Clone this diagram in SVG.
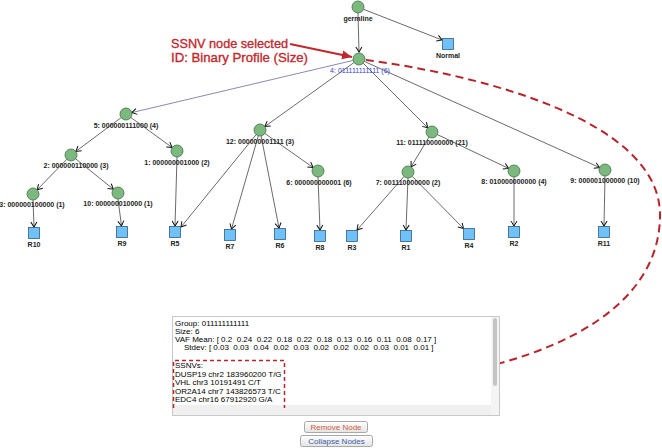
<svg xmlns="http://www.w3.org/2000/svg" width="662" height="448" viewBox="0 0 662 448">
<defs>
<style>
.c{fill:#7bb97f;stroke:#3f6f45;stroke-width:0.8}
.s{fill:#6fc1f8;stroke:#2d5f84;stroke-width:0.8}
.l{font-family:"Liberation Sans",Arial,sans-serif;font-size:7px;font-weight:bold;fill:#222;text-anchor:middle}
.e line{stroke:#444;stroke-width:0.8;marker-end:url(#ah)}
.p{font-family:"Liberation Sans",Arial,sans-serif;font-size:8px;fill:#000;white-space:pre}
.a{font-family:"Liberation Sans",Arial,sans-serif;font-size:13.5px;fill:#c1272d;stroke:#c1272d;stroke-width:0.35}
.b{font-family:"Liberation Sans",Arial,sans-serif;font-size:8px;text-anchor:middle}
</style>
<marker id="ah" viewBox="-6 -4 7 8" refX="0" refY="0" markerWidth="7" markerHeight="8" markerUnits="userSpaceOnUse" orient="auto">
<path d="M-5,-3 L0,0 L-5,3" fill="none" stroke="#111" stroke-width="1"/>
</marker>
<marker id="rh" viewBox="-10 -5 11 10" refX="0" refY="0" markerWidth="11" markerHeight="10" markerUnits="userSpaceOnUse" orient="auto">
<path d="M-10,-4.5 L0,0 L-10,4.5 Z" fill="#c1272d"/>
</marker>
<linearGradient id="bg" x1="0" y1="0" x2="0" y2="1">
<stop offset="0" stop-color="#ffffff"/><stop offset="1" stop-color="#e4e4e4"/>
</linearGradient>
</defs>
<rect width="662" height="448" fill="#fff"/>

<g id="connectors" class="e">
<line x1="358" y1="13" x2="359" y2="52"/>
<line x1="363.5" y1="9.3" x2="442" y2="40"/>
<line x1="353.2" y1="60.4" x2="131.8" y2="112.6" style="stroke:#6b6b9c"/>
<line x1="354.1" y1="62.5" x2="264.9" y2="126.5"/>
<line x1="363.2" y1="63.2" x2="427.8" y2="127.8"/>
<line x1="364.5" y1="61.5" x2="599.5" y2="167.5"/>
<line x1="121.2" y1="117.6" x2="75.8" y2="151.4"/>
<line x1="130.9" y1="117.5" x2="172.1" y2="147.5"/>
<line x1="66.8" y1="159.3" x2="37.2" y2="189.7"/>
<line x1="75.7" y1="158.8" x2="113.3" y2="189.2"/>
<line x1="33" y1="200" x2="34" y2="227"/>
<line x1="118" y1="199" x2="121.5" y2="226"/>
<line x1="177" y1="157" x2="175" y2="226"/>
<line x1="256.2" y1="134.6" x2="181" y2="227"/>
<line x1="258.3" y1="135.8" x2="231.5" y2="229"/>
<line x1="261.1" y1="135.9" x2="279" y2="228"/>
<line x1="264.9" y1="133.5" x2="313.1" y2="167.5"/>
<line x1="318" y1="177" x2="320" y2="230"/>
<line x1="428.9" y1="137.1" x2="411.1" y2="166.9"/>
<line x1="437.4" y1="134.6" x2="508.6" y2="168.4"/>
<line x1="404" y1="176.5" x2="357" y2="230"/>
<line x1="408" y1="178" x2="406" y2="230"/>
<line x1="412.2" y1="176.3" x2="463.5" y2="228.5"/>
<line x1="514" y1="177" x2="514" y2="226"/>
<line x1="605" y1="176" x2="604" y2="226"/>
</g>

<g id="germline"><circle class="c" cx="358" cy="7" r="6"/><text class="l" x="358" y="21">germline</text></g>
<g id="Normal"><rect class="s" x="442.5" y="38.5" width="11" height="11"/><text class="l" x="448" y="58">Normal</text></g>
<g id="n4"><circle class="c" cx="359" cy="59" r="6"/><text class="l" x="360" y="73" style="fill:#3344cc;font-weight:normal">4: 011111111111 (6)</text></g>
<g id="n5"><circle class="c" cx="126" cy="114" r="6"/><text class="l" x="126" y="128">5: 000000111000 (4)</text></g>
<g id="n12"><circle class="c" cx="260" cy="130" r="6"/><text class="l" x="260" y="144">12: 000000001111 (3)</text></g>
<g id="n11"><circle class="c" cx="432" cy="132" r="6"/><text class="l" x="432" y="145">11: 011110000000 (21)</text></g>
<g id="n2"><circle class="c" cx="71" cy="155" r="6"/><text class="l" x="76" y="168">2: 000000110000 (3)</text></g>
<g id="n1"><circle class="c" cx="177" cy="151" r="6"/><text class="l" x="177" y="165">1: 000000001000 (2)</text></g>
<g id="n6"><circle class="c" cx="318" cy="171" r="6"/><text class="l" x="319" y="185">6: 000000000001 (6)</text></g>
<g id="n7"><circle class="c" cx="408" cy="172" r="6"/><text class="l" x="408" y="185">7: 001110000000 (2)</text></g>
<g id="n8"><circle class="c" cx="514" cy="171" r="6"/><text class="l" x="514" y="184">8: 010000000000 (4)</text></g>
<g id="n9"><circle class="c" cx="605" cy="170" r="6"/><text class="l" x="605" y="183">9: 000001000000 (10)</text></g>
<g id="n3"><circle class="c" cx="33" cy="194" r="6"/><text class="l" x="32" y="207">3: 000000100000 (1)</text></g>
<g id="n10"><circle class="c" cx="118" cy="193" r="6"/><text class="l" x="118" y="206">10: 000000010000 (1)</text></g>

<g id="R10"><rect class="s" x="28.5" y="227.5" width="11" height="11"/><text class="l" x="34" y="247">R10</text></g>
<g id="R9"><rect class="s" x="116.5" y="226.5" width="11" height="11"/><text class="l" x="122" y="246">R9</text></g>
<g id="R5"><rect class="s" x="169.5" y="226.5" width="11" height="11"/><text class="l" x="175" y="246">R5</text></g>
<g id="R7"><rect class="s" x="224.5" y="229.5" width="11" height="11"/><text class="l" x="230" y="249">R7</text></g>
<g id="R6"><rect class="s" x="274.5" y="228.5" width="11" height="11"/><text class="l" x="280" y="248">R6</text></g>
<g id="R8"><rect class="s" x="314.5" y="230.5" width="11" height="11"/><text class="l" x="320" y="250">R8</text></g>
<g id="R3"><rect class="s" x="346.5" y="230.5" width="11" height="11"/><text class="l" x="352" y="250">R3</text></g>
<g id="R1"><rect class="s" x="400.5" y="230.5" width="11" height="11"/><text class="l" x="406" y="250">R1</text></g>
<g id="R4"><rect class="s" x="463.5" y="228.5" width="11" height="11"/><text class="l" x="469" y="248">R4</text></g>
<g id="R2"><rect class="s" x="508.5" y="226.5" width="11" height="11"/><text class="l" x="514" y="246">R2</text></g>
<g id="R11"><rect class="s" x="598.5" y="226.5" width="11" height="11"/><text class="l" x="604" y="246">R11</text></g>

<g id="annotation">
<text class="a" x="171" y="48" textLength="117" lengthAdjust="spacingAndGlyphs">SSNV node selected</text>
<text class="a" x="171" y="62" textLength="137" lengthAdjust="spacingAndGlyphs">ID: Binary Profile (Size)</text>
<line x1="290" y1="44" x2="352" y2="57" stroke="#c1272d" stroke-width="2.2" marker-end="url(#rh)"/>
<path d="M366,60 C480,75 660,120 660,215 C660,330 500,387 294,388" fill="none" stroke="#b5262c" stroke-width="2" stroke-dasharray="8,5" marker-end="url(#rh)"/>
</g>

<g id="panel">
<rect x="172.5" y="316.5" width="327" height="99" fill="#fff" stroke="#c8c8c8"/>
<rect x="173" y="405" width="318" height="10" fill="#f0f0f0"/>
<rect x="491" y="317" width="8" height="98" fill="#f4f4f4"/>
<rect x="493" y="318" width="4" height="68" rx="2" fill="#c4c4c4"/>
<text class="p" x="175" y="326">Group: 011111111111</text>
<text class="p" x="175" y="334">Size: 6</text>
<text class="p" x="175" y="342">VAF Mean: [ 0.2  0.24  0.22  0.18  0.22  0.18  0.13  0.16  0.11  0.08  0.17 ]</text>
<text class="p" x="184" y="350">Stdev: [ 0.03  0.03  0.04  0.02  0.03  0.02  0.02  0.02  0.03  0.01  0.01 ]</text>
<text class="p" x="175" y="368">SSNVs:</text>
<text class="p" x="175" y="377">DUSP19 chr2 183960200 T/G</text>
<text class="p" x="175" y="385">VHL chr3 10191491 C/T</text>
<text class="p" x="175" y="394">OR2A14 chr7 143826573 T/C</text>
<text class="p" x="175" y="402">EDC4 chr16 67912920 G/A</text>
<path d="M173.5,408 V360.5 H284.5 V408" fill="none" stroke="#b5262c" stroke-width="1.5" stroke-dasharray="4,3"/>
</g>

<g id="btn-remove">
<rect x="304.5" y="421.5" width="63" height="11" rx="2" fill="url(#bg)" stroke="#a8a8a8"/>
<text class="b" x="336" y="430" fill="#d0603a">Remove Node</text>
</g>
<g id="btn-collapse">
<rect x="300.5" y="435.5" width="72" height="11" rx="2" fill="url(#bg)" stroke="#a8a8a8"/>
<text class="b" x="336.5" y="444" fill="#3b5ba5">Collapse Nodes</text>
</g>
</svg>
